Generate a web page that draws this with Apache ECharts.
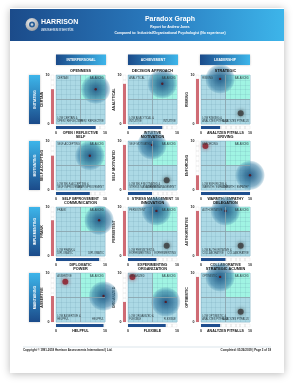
<!DOCTYPE html>
<html><head><meta charset="utf-8">
<script src="https://cdn.jsdelivr.net/npm/echarts@6/dist/echarts.min.js"></script>
<style>html,body{margin:0;padding:0;background:#fff}#c{width:298px;height:388px}</style>
</head><body><div id="c"></div>
<script>
// ---- data ----
const columnHeaders = ['INTERPERSONAL', 'ACHIEVEMENT', 'LEADERSHIP'];
const rowHeaders = ['INITIATING', 'MOTIVATING', 'IMPLEMENTING', 'MAINTAINING'];
const titles = ['OPENNESS','DECISION APPROACH','STRATEGIC','SELF','MOTIVATION','DRIVING','COMMUNICATION','INNOVATION','DELEGATION','POWER','ORGANIZATION','STRATEGIC ACUMEN'];
const yNames = ['CERTAIN','ANALYTICAL','RISKING','SELF-ACCEPTING','SELF MOTIVATED','ENFORCING','FRANK','PERSISTENT','AUTHORITATIVE','ASSERTIVE','ORGANIZED','OPTIMISTIC'];
const xNames = ['OPEN / REFLECTIVE','INTUITIVE','ANALYZES PITFALLS','SELF IMPROVEMENT','STRESS MANAGEMENT','WARMTH / EMPATHY','DIPLOMATIC','EXPERIMENTING','COLLABORATIVE','HELPFUL','FLEXIBLE','ANALYZES PITFALLS'];
const scoreX = [8.1, 7.0, 3.9, 6.9, 4.9, 10, 8.8, 5.8, 5.0, 9.7, 7.7, 3.9];
const scoreY = [7.1, 8.2, 9.2, 7.0, 9.2, 3.0, 7.3, 9.2, 9.2, 5.3, 4.1, 9.2];
const markerX = [null, null, 8.1, null, 7.9, 0.9, null, 7.9, 8.1, 1.9, 0.9, 8.1];
const markerY = [null, null, 2.2, null, 2.0, 9.0, null, 2.1, 2.1, 8.2, 9.2, 2.1];
const markerKind = [null, null, 'grey', null, 'grey', 'red', null, 'grey', 'grey', 'red', 'red', 'grey'];
const scaleMin = 0, scaleMax = 10, quadrantSplit = 5;
const headerTitle = 'Paradox Graph';
const headerSub1 = 'Report for Andrew Jones';
const headerSub2 = 'Compared to: Industrial/Organizational Psychologist (No experience)';
const footerLeft = 'Copyright \u00A9 1991-2018 Harrison Assessments International | Ltd.';
const footerRight = 'Completed: 01/26/2019 | Page 3 of 18';

// ---- layout ----
const COLS = [56, 128, 201];
const ROWS = [75, 141, 207, 273];
const PW = 49, PH = 49;
const FONT = 'Liberation Sans, Arial, sans-serif';

const chart = echarts.init(document.getElementById('c'), null, {renderer: 'canvas'});

const grids = [], xAxes = [], yAxes = [], series = [], graphics = [];

// page
graphics.push({type:'rect', z:-10, shape:{x:10,y:8,width:274,height:365}, style:{fill:'#fff', shadowBlur:8, shadowColor:'rgba(0,0,0,0.28)', shadowOffsetY:1}});
graphics.push({type:'rect', z:-9, shape:{x:10,y:9,width:274,height:32}, style:{fill:new echarts.graphic.LinearGradient(0,0,1,0,[{offset:0,color:'#1b4b8a'},{offset:0.55,color:'#2a7cc0'},{offset:1,color:'#3db5ea'}])}});
// logo
graphics.push({type:'circle', z:-8, shape:{cx:32,cy:24.5,r:6.5}, style:{fill:new echarts.graphic.RadialGradient(0.4,0.35,0.8,[{offset:0,color:'#f0f0f0'},{offset:1,color:'#8a8f96'}])}});
graphics.push({type:'circle', z:-7, shape:{cx:32,cy:24.5,r:3}, style:{fill:'#2a5f97'}});
graphics.push({type:'circle', z:-7, shape:{cx:32,cy:24.5,r:1.3}, style:{fill:'#c9d3dc'}});
graphics.push({type:'text', z:-6, x:41, y:22, style:{text:'HARRISON', fill:'#fff', font:'bold 7px '+FONT, verticalAlign:'middle'}});
graphics.push({type:'text', z:-6, x:41, y:29.5, style:{text:'assessments', fill:'#e6eef6', font:'5.6px '+FONT, verticalAlign:'middle'}});
graphics.push({type:'text', z:-6, x:170, y:19, style:{text:headerTitle, fill:'#fff', font:'bold 7px '+FONT, align:'center', verticalAlign:'middle'}});
graphics.push({type:'text', z:-6, x:170, y:27.3, style:{text:headerSub1, fill:'#fff', font:'bold 3.3px '+FONT, align:'center', verticalAlign:'middle'}});
graphics.push({type:'text', z:-6, x:170, y:32.8, style:{text:headerSub2, fill:'#fff', font:'bold 3.4px '+FONT, align:'center', verticalAlign:'middle'}});

// column headers
const colHeadX = [56, 128, 200];
columnHeaders.forEach((t, c) => {
  graphics.push({type:'rect', z:-5, shape:{x:colHeadX[c], y:54.5, width:50, height:10.5}, style:{fill:new echarts.graphic.LinearGradient(0,0,1,0,[{offset:0,color:'#1b4b8a'},{offset:1,color:'#3db5ea'}]), shadowBlur:2, shadowColor:'rgba(0,0,0,0.25)'}});
  graphics.push({type:'text', z:-4, x:colHeadX[c]+25, y:59.8, style:{text:t, fill:'#fff', font:'bold 3.4px '+FONT, align:'center', verticalAlign:'middle'}});
});
// row headers
rowHeaders.forEach((t, r) => {
  graphics.push({type:'rect', z:-5, shape:{x:29, y:ROWS[r], width:11, height:PH}, style:{fill:new echarts.graphic.LinearGradient(0,0,0,1,[{offset:0,color:'#3db5ea'},{offset:1,color:'#1b4b8a'}]), shadowBlur:2, shadowColor:'rgba(0,0,0,0.25)'}});
  graphics.push({type:'text', z:-4, x:34.5, y:ROWS[r]+PH/2, rotation:Math.PI/2, style:{text:t, fill:'#fff', font:'bold 3.6px '+FONT, align:'center', verticalAlign:'middle'}});
});

// footer
graphics.push({type:'line', z:-5, shape:{x1:23,y1:347,x2:271,y2:347}, style:{stroke:'#c5d3de', lineWidth:0.6}});
graphics.push({type:'text', z:-4, x:23, y:350.5, style:{text:footerLeft, fill:'#222', font:'bold 2.9px '+FONT, verticalAlign:'middle'}});
graphics.push({type:'text', z:-4, x:271, y:350.5, style:{text:footerRight, fill:'#222', font:'bold 2.9px '+FONT, align:'right', verticalAlign:'middle'}});

const circleGrad = new echarts.graphic.RadialGradient(0.5,0.5,0.5,[
  {offset:0,color:'rgba(35,90,135,0.95)'},
  {offset:0.4,color:'rgba(45,110,150,0.8)'},
  {offset:0.75,color:'rgba(55,125,165,0.6)'},
  {offset:0.92,color:'rgba(70,140,175,0.3)'},
  {offset:1,color:'rgba(80,150,180,0)'}]);

titles.forEach((title, i) => {
  const r = Math.floor(i/3), c = i%3;
  const L = COLS[c], T = ROWS[r];
  const g0 = grids.length;
  grids.push({left:L, top:T, width:PW, height:PH, show:true, backgroundColor:'#acd9e5', borderColor:'#8dbfd0', borderWidth:0.5});
  grids.push({left:L-5, top:T, width:3, height:PH, show:true, backgroundColor:'#fff', borderColor:'#ddd', borderWidth:0.3});
  grids.push({left:L, top:T+PH+2, width:PW, height:3, show:true, backgroundColor:'#fff', borderColor:'#ddd', borderWidth:0.3});

  const gridLine = {show:true, lineStyle:{color:'rgba(90,140,160,0.28)', width:0.5}};
  xAxes.push({gridIndex:g0, type:'value', min:scaleMin, max:scaleMax, interval:1, z:1.5, axisLabel:{show:false}, axisLine:{show:false}, axisTick:{show:false}, splitLine:gridLine});
  yAxes.push({gridIndex:g0, type:'value', min:scaleMin, max:scaleMax, interval:1, z:1.5, axisLabel:{show:false}, axisLine:{show:false}, axisTick:{show:false}, splitLine:gridLine});

  // red strip (y score)
  xAxes.push({gridIndex:g0+1, type:'category', data:[''], show:false});
  yAxes.push({gridIndex:g0+1, type:'value', min:scaleMin, max:scaleMax, interval:10,
    axisLine:{show:false}, axisTick:{show:false}, splitLine:{show:false},
    minorTick:{show:false, splitNumber:10}, minorSplitLine:{show:true, lineStyle:{color:'#bbb', width:0.3}},
    axisLabel:{fontSize:3.6, margin:1.5, color:'#222', fontFamily:FONT, fontWeight:'bold'},
    name:yNames[i], nameLocation:'middle', nameGap:7.5, nameMoveOverlap:false,
    nameTextStyle:{fontSize:3.6, fontWeight:'bold', color:'#111', fontFamily:FONT}});

  // blue strip (x score)
  yAxes.push({gridIndex:g0+2, type:'category', data:[''], show:false});
  xAxes.push({gridIndex:g0+2, type:'value', min:scaleMin, max:scaleMax, interval:10,
    axisLine:{show:false}, axisTick:{show:false}, splitLine:{show:false},
    minorTick:{show:false, splitNumber:10}, minorSplitLine:{show:true, lineStyle:{color:'#999', width:0.3}},
    axisLabel:{fontSize:3.6, margin:1.6, color:'#222', fontFamily:FONT, fontWeight:'bold'},
    name:xNames[i], nameLocation:'middle', nameGap:1.6, nameMoveOverlap:false,
    nameTextStyle:{fontSize:3.6, fontWeight:'bold', color:'#111', fontFamily:FONT, verticalAlign:'top'}});

  const mainX = g0, mainY = g0;
  series.push({type:'scatter', xAxisIndex:mainX, yAxisIndex:mainY, data:[], z:1, silent:true,
    markArea:{silent:true, itemStyle:{color:'#a0f4e3'}, data:[[{coord:[quadrantSplit, quadrantSplit]},{coord:[scaleMax, scaleMax]}]]},
    markLine:{silent:true, symbol:'none', label:{show:false}, lineStyle:{color:'#8aa2ab', width:0.8, type:'solid'}, data:[{xAxis:quadrantSplit},{yAxis:quadrantSplit}]}});
  series.push({type:'scatter', xAxisIndex:mainX, yAxisIndex:mainY, z:2, silent:true, clip:true,
    data:[[scoreX[i], scoreY[i]]], symbolSize:30, itemStyle:{color:circleGrad, opacity:1}});
  if (markerX[i] !== null) {
    const red = markerKind[i] === 'red';
    series.push({type:'scatter', xAxisIndex:mainX, yAxisIndex:mainY, z:3, silent:true, clip:true,
      data:[[markerX[i], markerY[i]]], symbolSize:6,
      itemStyle:{color: red ? '#8c1c28' : '#3b3b3b', shadowBlur:4, shadowColor: red ? 'rgba(150,20,35,0.8)' : 'rgba(0,0,0,0.7)'}});
  }
  series.push({type:'scatter', xAxisIndex:mainX, yAxisIndex:mainY, z:4, silent:true, clip:true,
    data:[[scoreX[i], scoreY[i]]], symbolSize:2.4, itemStyle:{color:'#5a0f14'}});
  series.push({type:'bar', xAxisIndex:g0+1, yAxisIndex:g0+1, data:[scoreY[i]], barWidth:'100%', silent:true, itemStyle:{color:'#cf6b74'}});
  series.push({type:'bar', xAxisIndex:g0+2, yAxisIndex:g0+2, data:[scoreX[i]], barWidth:'100%', silent:true, itemStyle:{color:'#1e4e8e'}});

  graphics.push({type:'text', z:10, x:L+PW/2, y:T-3.6, style:{text:title, fill:'#111', font:'bold 3.8px '+FONT, align:'center', verticalAlign:'middle'}});
  const cf = '2.6px '+FONT, cc = '#2a3a40';
  graphics.push({type:'text', z:10, x:L+1.2, y:T+1.5, style:{text:yNames[i], fill:cc, font:cf, verticalAlign:'top'}});
  graphics.push({type:'text', z:10, x:L+PW-1.2, y:T+1.5, style:{text:'BALANCED', fill:cc, font:cf, align:'right', verticalAlign:'top'}});
  graphics.push({type:'text', z:10, x:L+1.2, y:T+PH-1.5, style:{text:'LOW ' + yNames[i] + ' &\n' + xNames[i], fill:cc, font:cf, verticalAlign:'bottom', lineHeight:3}});
  graphics.push({type:'text', z:10, x:L+PW-1.2, y:T+PH-1.5, style:{text:xNames[i], fill:cc, font:cf, align:'right', verticalAlign:'bottom'}});
});

chart.setOption({
  backgroundColor:'#ffffff',
  animation:false,
  grid:grids, xAxis:xAxes, yAxis:yAxes, series:series,
  graphic:{elements:graphics}
});
</script></body></html>
